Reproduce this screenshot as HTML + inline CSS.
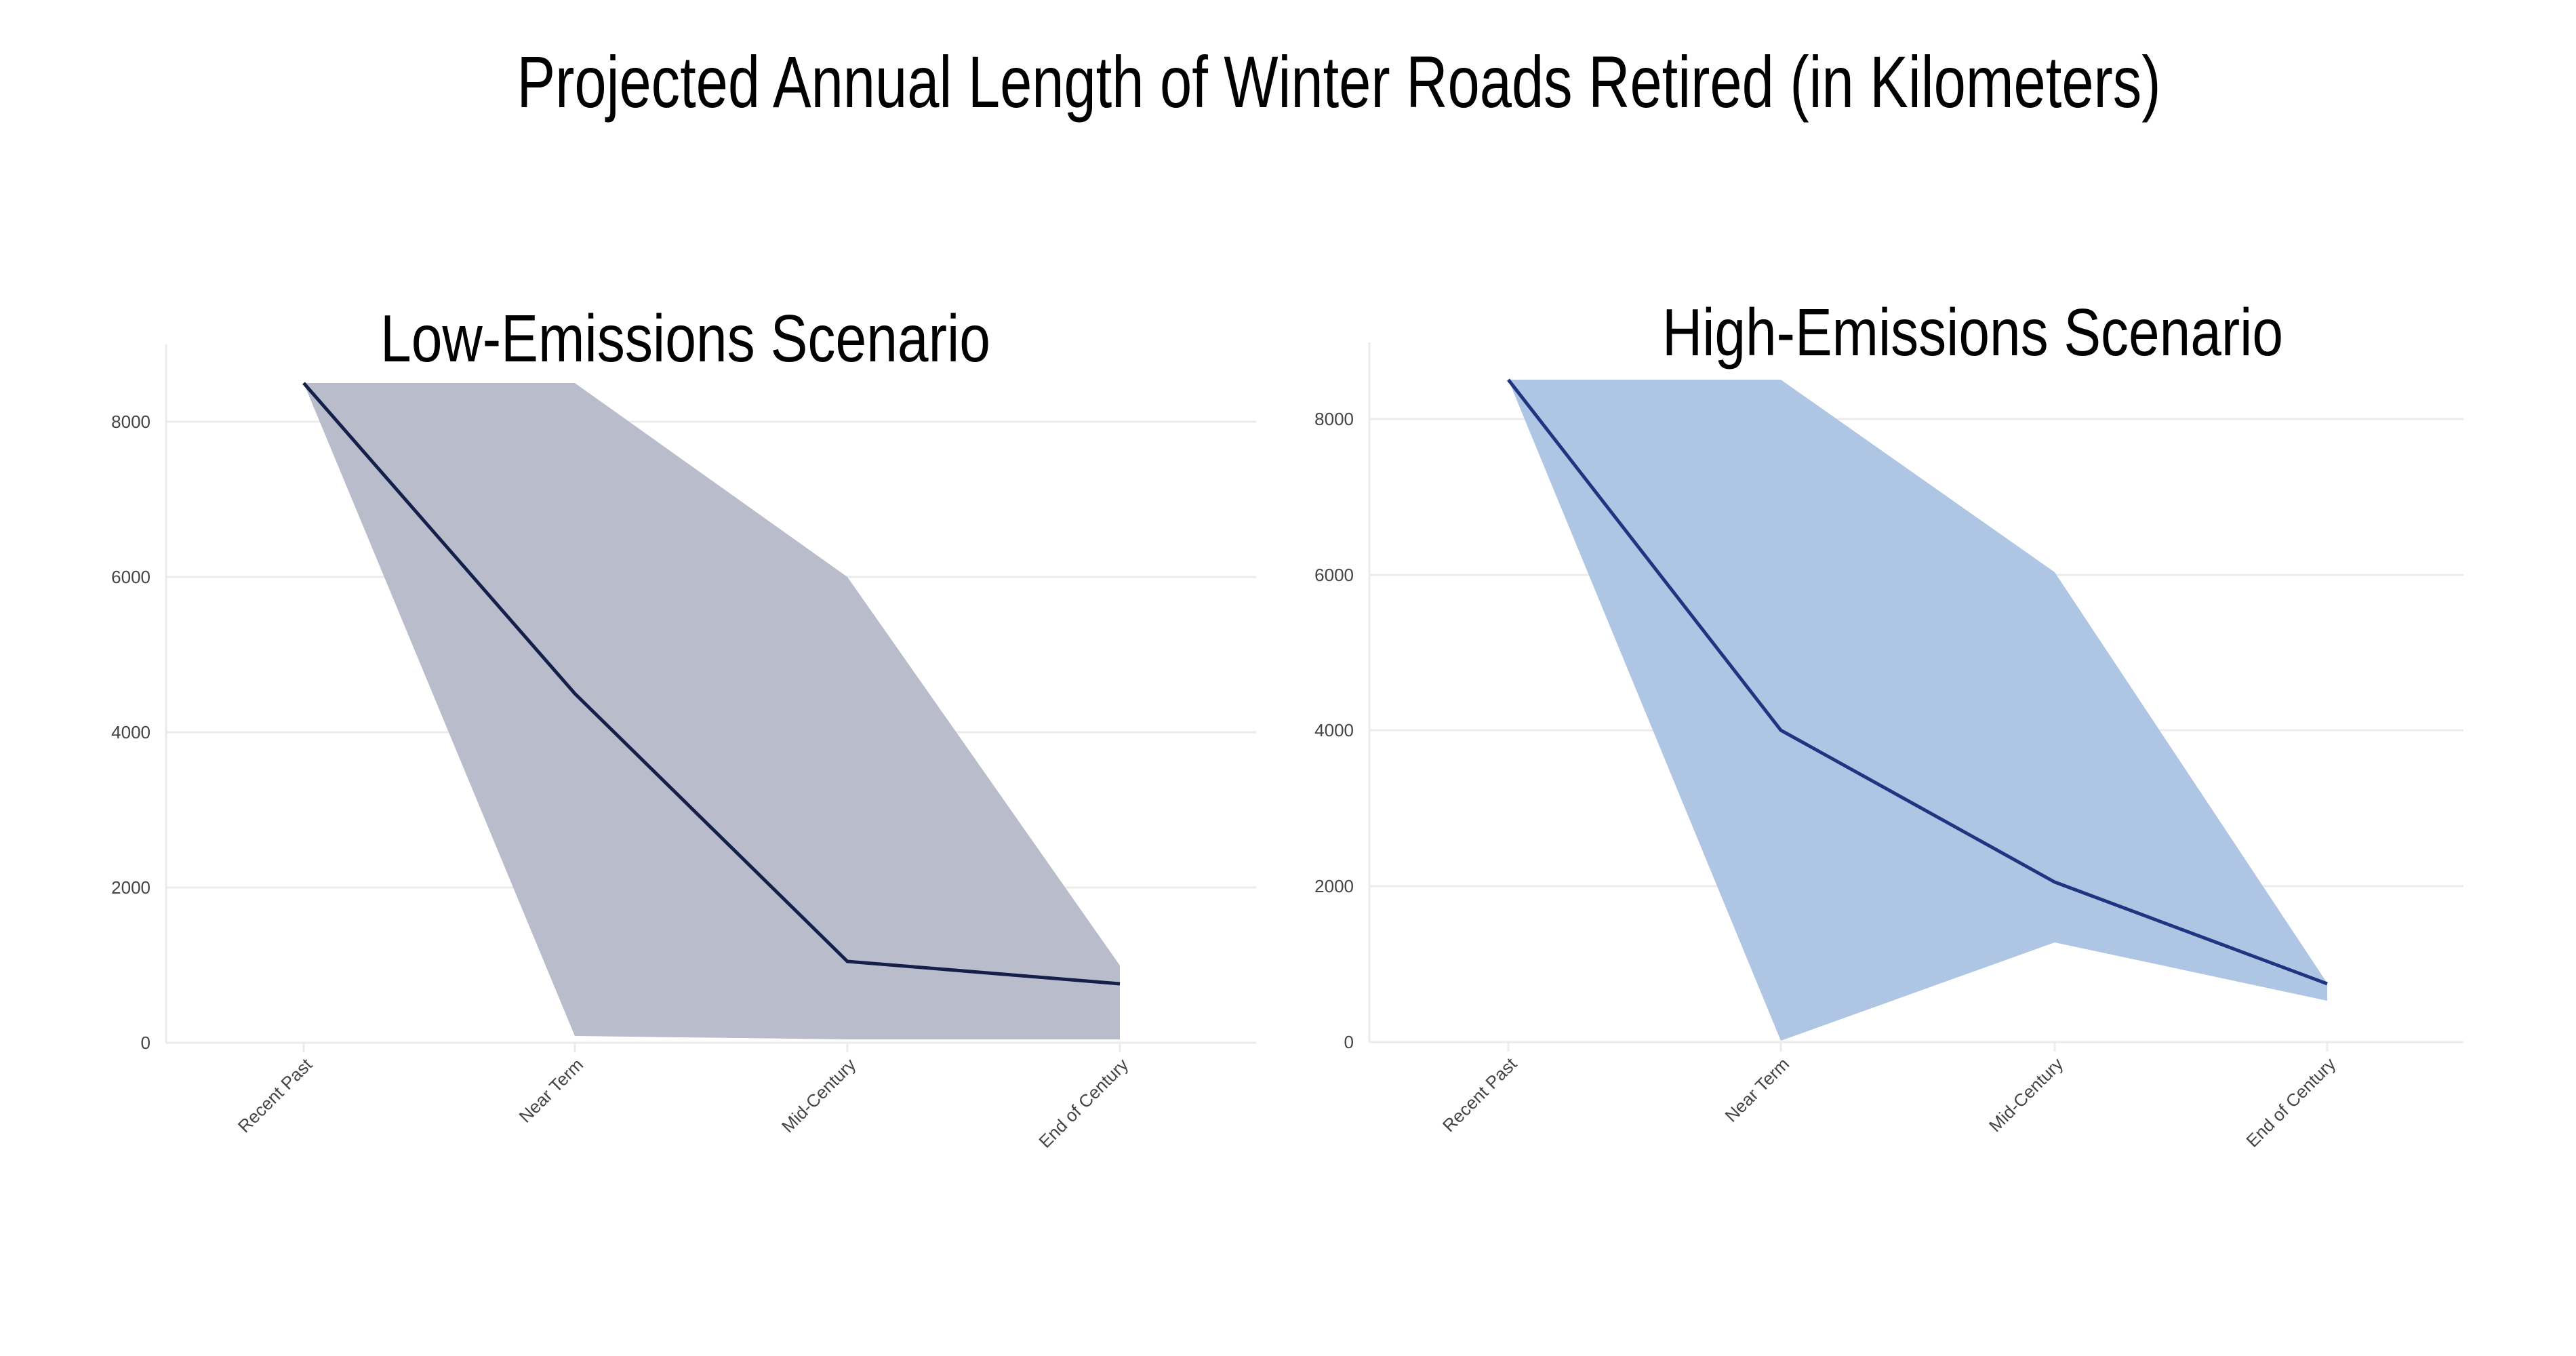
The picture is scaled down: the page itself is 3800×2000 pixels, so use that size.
<!DOCTYPE html>
<html><head><meta charset="utf-8"><style>
html,body{margin:0;padding:0;background:#fff;}
svg{display:block;}
text{font-family:"Liberation Sans Narrow","Liberation Sans",sans-serif;}
text.t{font-family:"Liberation Sans",sans-serif;}
</style></head><body>
<svg width="3800" height="2000" xmlns="http://www.w3.org/2000/svg">
<rect width="3800" height="2000" fill="#fff"/>
<text class="t" x="1975" y="158" font-size="108" text-anchor="middle" textLength="2425" lengthAdjust="spacingAndGlyphs" fill="#000">Projected Annual Length of Winter Roads Retired (in Kilometers)</text>

<!-- Left panel -->
<g stroke="#ebebeb" stroke-width="3">
<line x1="245" y1="1538" x2="1853" y2="1538"/>
<line x1="245" y1="1309" x2="1853" y2="1309"/>
<line x1="245" y1="1080" x2="1853" y2="1080"/>
<line x1="245" y1="851" x2="1853" y2="851"/>
<line x1="245" y1="622" x2="1853" y2="622"/>
<line x1="245" y1="508" x2="245" y2="1538"/>
<line x1="448" y1="1538" x2="448" y2="1552"/>
<line x1="848" y1="1538" x2="848" y2="1552"/>
<line x1="1250" y1="1538" x2="1250" y2="1552"/>
<line x1="1652" y1="1538" x2="1652" y2="1552"/>
</g>
<polygon points="448,565 848,565 1250,851 1652,1424 1652,1533 1250,1533 848,1528" fill="#b8bccb"/>
<polyline points="448,565 848,1023 1250,1418 1652,1451" fill="none" stroke="#15204a" stroke-width="5"/>
<text class="t" x="1011" y="533" font-size="98" text-anchor="middle" textLength="900" lengthAdjust="spacingAndGlyphs" fill="#000">Low-Emissions Scenario</text>
<g font-size="26" fill="#444" text-anchor="end">
<text x="222" y="1547">0</text>
<text x="222" y="1318">2000</text>
<text x="222" y="1089">4000</text>
<text x="222" y="860">6000</text>
<text x="222" y="631">8000</text>
<text transform="translate(462,1572) rotate(-45)">Recent Past</text>
<text transform="translate(862,1572) rotate(-45)">Near Term</text>
<text transform="translate(1264,1572) rotate(-45)">Mid-Century</text>
<text transform="translate(1666,1572) rotate(-45)">End of Century</text>
</g>

<!-- Right panel -->
<g stroke="#ebebeb" stroke-width="3">
<line x1="2020" y1="1537" x2="3634" y2="1537"/>
<line x1="2020" y1="1307" x2="3634" y2="1307"/>
<line x1="2020" y1="1077" x2="3634" y2="1077"/>
<line x1="2020" y1="848" x2="3634" y2="848"/>
<line x1="2020" y1="618" x2="3634" y2="618"/>
<line x1="2020" y1="505" x2="2020" y2="1537"/>
<line x1="2225" y1="1537" x2="2225" y2="1551"/>
<line x1="2627" y1="1537" x2="2627" y2="1551"/>
<line x1="3031" y1="1537" x2="3031" y2="1551"/>
<line x1="3433" y1="1537" x2="3433" y2="1551"/>
</g>
<polygon points="2225,560 2627,560 3031,844 3433,1450 3433,1476 3031,1390 2627,1535" fill="#aec5e4"/>
<polyline points="2225,560 2627,1077 3031,1301 3433,1451" fill="none" stroke="#1f3580" stroke-width="5"/>
<text class="t" x="2910" y="524" font-size="98" text-anchor="middle" textLength="916" lengthAdjust="spacingAndGlyphs" fill="#000">High-Emissions Scenario</text>
<g font-size="26" fill="#444" text-anchor="end">
<text x="1997" y="1546">0</text>
<text x="1997" y="1316">2000</text>
<text x="1997" y="1086">4000</text>
<text x="1997" y="857">6000</text>
<text x="1997" y="627">8000</text>
<text transform="translate(2239,1571) rotate(-45)">Recent Past</text>
<text transform="translate(2641,1571) rotate(-45)">Near Term</text>
<text transform="translate(3045,1571) rotate(-45)">Mid-Century</text>
<text transform="translate(3447,1571) rotate(-45)">End of Century</text>
</g>
</svg>
</body></html>
